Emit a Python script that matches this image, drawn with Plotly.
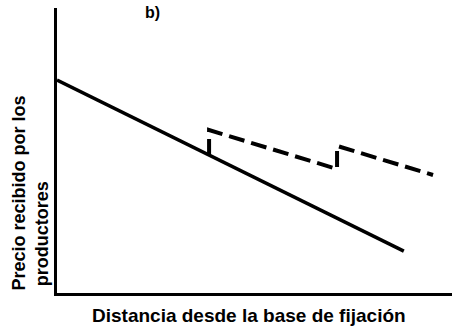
import plotly.graph_objects as go

# Data (arbitrary units)
solid_x = [0.0, 8.78]
solid_y = [7.47, 1.47]
dashed_x = [3.85, 3.85, 7.09, 7.09, 9.52]
dashed_y = [4.84, 5.72, 4.35, 5.16, 4.14]

title_text = "b)"
xlabel = "Distancia desde la base de fijación"
ylabel_1 = "Precio recibido por los"
ylabel_2 = "productores"

FONT = "Liberation Sans, Arial, sans-serif"

fig = go.Figure()
fig.add_trace(go.Scatter(x=solid_x, y=solid_y, mode="lines",
                         line=dict(color="black", width=3.5),
                         cliponaxis=False, hoverinfo="skip"))
fig.add_trace(go.Scatter(x=dashed_x, y=dashed_y, mode="lines",
                         line=dict(color="black", width=4, dash="16px,7px"),
                         cliponaxis=False, hoverinfo="skip"))

fig.update_layout(
    width=458, height=329,
    margin=dict(l=57, r=6, t=8, b=36),
    paper_bgcolor="white", plot_bgcolor="white",
    showlegend=False,
    font=dict(family=FONT, color="black"),
    xaxis=dict(range=[0, 10], showgrid=False, zeroline=False, showticklabels=False,
               ticks="", showline=True, linecolor="black", linewidth=3, fixedrange=True),
    yaxis=dict(range=[0, 10], showgrid=False, zeroline=False, showticklabels=False,
               ticks="", showline=True, linecolor="black", linewidth=3, fixedrange=True),
    annotations=[
        dict(text=f"<b>{title_text}</b>", xref="paper", yref="paper", x=0.243, y=0.983,
             xanchor="center", yanchor="middle", showarrow=False, font=dict(size=16)),
        dict(text=f"<b>{xlabel}</b>", xref="paper", yref="paper", x=0.486, y=-0.0807,
             xanchor="center", yanchor="middle", showarrow=False, font=dict(size=19)),
        dict(text=f"<b>{ylabel_1}</b>", xref="paper", yref="paper", x=-0.0987, y=0.0,
             xanchor="center", yanchor="bottom", textangle=-90, showarrow=False,
             font=dict(size=18)),
        dict(text=f"<b>{ylabel_2}</b>", xref="paper", yref="paper", x=-0.038, y=0.018,
             xanchor="center", yanchor="bottom", textangle=-90, showarrow=False,
             font=dict(size=18)),
    ],
)

fig.write_html("out.html", config={"displayModeBar": False},
               post_script="document.body.style.margin='0';document.body.style.overflow='hidden';")
